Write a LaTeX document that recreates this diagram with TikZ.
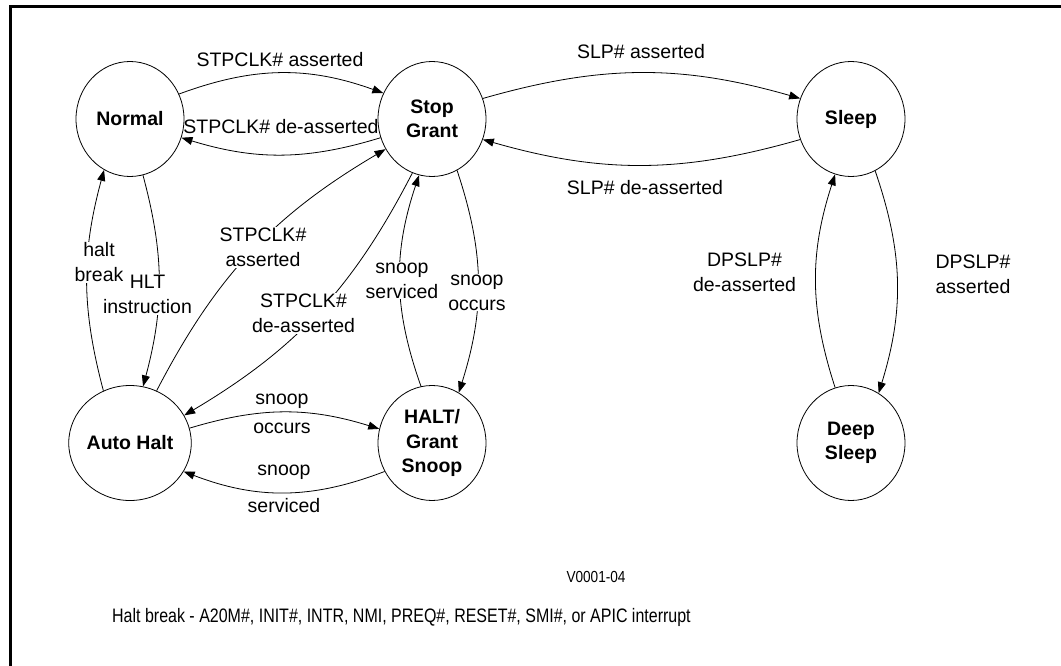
\documentclass[tikz,border=0pt]{standalone}
\usepackage{fontspec}
\setmainfont{Liberation Sans}
\newfontfamily\narrowsans{Liberation Sans}[FakeStretch=0.82]
\newfontfamily\versans{Liberation Sans}[FakeStretch=0.85]
\usetikzlibrary{shapes.geometric,arrows.meta}
\begin{document}
\begin{tikzpicture}[x=1pt,y=-1pt,
  state/.style={ellipse, draw, line width=0.8pt, minimum width=108pt, minimum height=115pt,
    inner sep=0pt, align=center, font=\fontsize{19.5}{24.5}\selectfont\bfseries},
  lbl/.style={align=center, inner sep=1pt, font=\fontsize{19.5}{25}\selectfont},
  wlbl/.style={lbl, fill=white},
  tr/.style={line width=0.8pt, -{Triangle[length=11pt,width=8pt]}},
]
\useasboundingbox (0,0) rectangle (1061,666);
\draw[line width=2.7pt] (10.7,690) -- (10.7,6.5) -- (1080,6.5);

% states
\node[state] (N)   at (130,119) {Normal};
\node[state] (SG)  at (432,119) {Stop\\Grant};
\node[state] (S)   at (851,119) {Sleep};
\node[state] (AH)  at (130,443) {Auto Halt};
\node[state] (HGS) at (432,443) {HALT/\\Grant\\Snoop};
\node[state] (DS)  at (851,443) {Deep\\Sleep};

% transitions
\draw[tr] (N.27)   to[bend left=20] (SG.152);
\draw[tr] (SG.200) to[bend left=17] (N.-20);
\draw[tr] (SG.22)  to[bend left=16] (S.158);
\draw[tr] (S.202)  to[bend left=16] (SG.-22);
\draw[tr] (N.-77)  to[bend left=15] (AH.77);
\draw[tr] (AH.117) to[bend left=15] (N.-117);
\draw[tr] (AH.63)  to[bend left=16] (SG.213);
\draw[tr] (SG.-110) to[bend left=16] (AH.27);
\draw[tr] (HGS.101) to[bend left=19] (SG.-103);
\draw[tr] (SG.-64) to[bend left=18] (HGS.62);
\draw[tr] (AH.14)  to[bend left=17] (HGS.165);
\draw[tr] (HGS.211) to[bend left=21] (AH.-28);
\draw[tr] (DS.106) to[bend left=18] (S.-106);
\draw[tr] (S.-65)  to[bend left=18] (DS.61);

% labels
\node[lbl]  (l1)  at (280,60)    {STPCLK\# asserted};
\node[lbl]  (l2)  at (281,127)   {STPCLK\# de-asserted};
\node[lbl]  (l3)  at (641,52)    {SLP\# asserted};
\node[lbl]  (l4)  at (645,188)   {SLP\# de-asserted};
\node[wlbl] (l6)  at (147.5,294.5) {HLT\\instruction};
\node[wlbl] (l5)  at (99,262.5)  {halt\\break};
\node[wlbl] (l7)  at (263,247.5) {STPCLK\#\\asserted};
\node[wlbl] (l8)  at (303.5,313.5) {STPCLK\#\\de-asserted};
\node[wlbl] (l9)  at (402,280.5) {snoop\\serviced};
\node[wlbl] (l10) at (477,292.5) {snoop\\occurs};
\node[lbl]  (l11) at (282,413.5) {snoop\\[4pt]occurs};
\node[lbl]  (l12) at (284,488.5) {snoop\\[12pt]serviced};
\node[lbl]  (l13) at (744.5,272.5) {DPSLP\#\\de-asserted};
\node[lbl]  (l14) at (973,274.5) {DPSLP\#\\asserted};
\node[lbl, font=\versans\fontsize{16}{19}\selectfont] (ver) at (596,577) {V0001-04};
\node[lbl, anchor=west, inner sep=0pt, font=\narrowsans\fontsize{19.5}{23}\selectfont] (note) at (112,617)
  {Halt break - A20M\#, INIT\#, INTR, NMI, PREQ\#, RESET\#, SMI\#, or APIC interrupt};
\end{tikzpicture}
\end{document}
